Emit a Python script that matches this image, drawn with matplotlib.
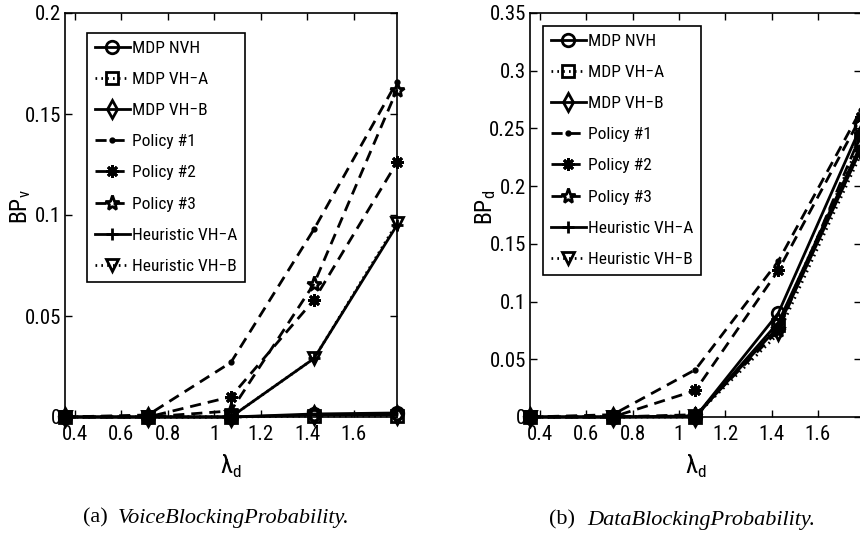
import matplotlib
matplotlib.use("Agg")
import matplotlib.pyplot as plt
from matplotlib import font_manager

# ---------------- data ----------------
lam = [0.357, 0.714, 1.071, 1.429, 1.786]
series_names = ["MDP NVH", "MDP VH\u2212A", "MDP VH\u2212B", "Policy #1", "Policy #2",
                "Policy #3", "Heuristic VH\u2212A", "Heuristic VH\u2212B"]

mdp_nvh_v = [0, 0, 0, 0.0015, 0.002]
mdp_vha_v = [0, 0, 0, 0.0005, 0.0005]
mdp_vhb_v = [0, 0, 0, 0.001, 0.001]
pol1_v = [0, 0.001, 0.027, 0.093, 0.166]
pol2_v = [0, 0, 0.010, 0.058, 0.126]
pol3_v = [0, 0, 0.003, 0.066, 0.162]
heur_a_v = [0, 0, 0, 0.029, 0.095]
heur_b_v = [0, 0, 0, 0.029, 0.096]

mdp_nvh_d = [0, 0, 0, 0.090, 0.252]
mdp_vha_d = [0, 0, 0, 0.080, 0.240]
mdp_vhb_d = [0, 0, 0, 0.082, 0.236]
pol1_d = [0, 0.002, 0.041, 0.135, 0.266]
pol2_d = [0, 0, 0.023, 0.127, 0.260]
pol3_d = [0, 0, 0.002, 0.075, 0.245]
heur_a_d = [0, 0, 0.001, 0.078, 0.232]
heur_b_d = [0, 0, 0.001, 0.072, 0.228]

xticks = [0.4, 0.6, 0.8, 1.0, 1.2, 1.4, 1.6]
xticklabels = ["0.4", "0.6", "0.8", "1", "1.2", "1.4", "1.6"]
yticks_v = [0, 0.05, 0.1, 0.15, 0.2]
yticklabels_v = ["0", "0.05", "0.1", "0.15", "0.2"]
yticks_d = [0, 0.05, 0.1, 0.15, 0.2, 0.25, 0.3, 0.35]
yticklabels_d = ["0", "0.05", "0.1", "0.15", "0.2", "0.25", "0.3", "0.35"]

# ---------------- font selection (condensed sans if available) ----------------
names = {f.name for f in font_manager.fontManager.ttflist}
narrow_candidates = ["Liberation Sans Narrow", "Arial Narrow", "Roboto Condensed",
                     "Open Sans Condensed", "Noto Sans Condensed", "DejaVu Sans Condensed"]
narrow = next((n for n in narrow_candidates if n in names), None)
stretch_fam = None
stretch_val = "condensed"
if narrow is None:
    for want in ("condensed", "semi-condensed"):
        for f in font_manager.fontManager.ttflist:
            if f.stretch == want and f.style == "normal" and f.weight in (400, "normal", "regular"):
                stretch_fam = f.name
                stretch_val = want
                break
        if stretch_fam:
            break

if narrow:
    SANS = [narrow, "DejaVu Sans"]
    FS_T, FS_L = 15, 12.5
    MFONT = narrow
elif stretch_fam:
    SANS = [stretch_fam, "DejaVu Sans"]
    plt.rcParams["font.stretch"] = stretch_val
    FS_T, FS_L = 14, 11.5
    MFONT = stretch_fam
else:
    SANS = ["Liberation Sans", "DejaVu Sans"]
    FS_T, FS_L = 12, 10
    MFONT = "Liberation Sans"

plt.rcParams["font.family"] = SANS
plt.rcParams["mathtext.fontset"] = "custom"
plt.rcParams["mathtext.rm"] = MFONT
plt.rcParams["mathtext.it"] = MFONT + ":italic"
plt.rcParams["mathtext.bf"] = MFONT + ":bold"

styles = [
    dict(ls="-", marker="o"),
    dict(ls=":", marker="s"),
    dict(ls="-", marker="d"),
    dict(ls="--", marker="."),
    dict(ls="--", marker=(8, 2, 0)),
    dict(ls="--", marker="*"),
    dict(ls="-", marker="+"),
    dict(ls=":", marker="v"),
]

fig = plt.figure(figsize=(8.6, 5.38), dpi=100)
axL = fig.add_axes([65 / 860, 1 - 417 / 538, (397 - 65) / 860, (417 - 13) / 538])
axR = fig.add_axes([530 / 860, 1 - 417 / 538, (861 - 530) / 860, (417 - 13) / 538])


def draw(ax, data, yticks, yticklabels, ylim, ylabel, leg_anchor, axw):
    handles = []
    for name, ys, st in zip(series_names, data, styles):
        ms = 11 if st["marker"] == "*" else 9
        if st["marker"] == ".":
            ms = 5
        kw = {}
        if st["ls"] == "--":
            kw["dashes"] = (4, 2.5)
        elif st["ls"] == ":":
            kw["dashes"] = (0.6, 1.5)
        h, = ax.plot(lam, ys, color="black", lw=2, ls=st["ls"], marker=st["marker"],
                     markersize=ms, markerfacecolor="none", markeredgecolor="black",
                     markeredgewidth=2, clip_on=False, label=name, **kw)
        if st["marker"] == ".":
            h.set_markerfacecolor("black")
        handles.append(h)
    ax.set_xlim(lam[0], lam[-1])
    ax.set_ylim(*ylim)
    ax.set_xticks(xticks)
    ax.set_xticklabels(xticklabels, fontsize=FS_T)
    ax.set_yticks(yticks)
    ax.set_yticklabels(yticklabels, fontsize=FS_T)
    ax.tick_params(direction="in", top=True, right=True, length=5, width=1)
    ax.tick_params(axis="x", pad=6)
    ax.tick_params(axis="y", pad=3)
    for s in ax.spines.values():
        s.set_linewidth(1.2)
    ax.set_xlabel(r"$\mathrm{\lambda}_\mathrm{d}$", fontsize=FS_T + 3)
    ax.xaxis.set_label_coords(0.5, -(466 - 417) / 404)
    ax.xaxis.label.set_va("center")
    ax.set_ylabel(ylabel, fontsize=FS_T + 2)
    ax.yaxis.label.set_va("center")
    ax.yaxis.set_label_coords(-44 / axw, 0.52)
    leg = ax.legend(handles=handles, loc="upper left", bbox_to_anchor=leg_anchor,
                    borderaxespad=0, fontsize=FS_L, frameon=True, fancybox=False,
                    edgecolor="black", framealpha=1, handlelength=2.0, handletextpad=0.12,
                    labelspacing=0.92, borderpad=0.45, numpoints=1)
    leg.get_frame().set_linewidth(1.2)


draw(axL, [mdp_nvh_v, mdp_vha_v, mdp_vhb_v, pol1_v, pol2_v, pol3_v, heur_a_v, heur_b_v],
     yticks_v, yticklabels_v, (0, 0.2), r"BP$_\mathrm{v}$", ((87 - 65) / 332, (417 - 33) / 404), 332)
draw(axR, [mdp_nvh_d, mdp_vha_d, mdp_vhb_d, pol1_d, pol2_d, pol3_d, heur_a_d, heur_b_d],
     yticks_d, yticklabels_d, (0, 0.35), r"BP$_\mathrm{d}$", ((543 - 530) / 331, (417 - 26) / 404), 331)

# captions
SERIF = ["Liberation Serif", "DejaVu Serif"]
fig.text(108 / 860, 1 - 518 / 538, "(a)", family=SERIF, fontsize=16, ha="right", va="center",
         stretch="normal")
fig.text(118 / 860, 1 - 518 / 538, "VoiceBlockingProbability.", family=SERIF, style="italic",
         fontsize=16, ha="left", va="center", stretch="normal")
fig.text(575 / 860, 1 - 520 / 538, "(b)", family=SERIF, fontsize=16, ha="right", va="center",
         stretch="normal")
fig.text(587 / 860, 1 - 520 / 538, "DataBlockingProbability.", family=SERIF, style="italic",
         fontsize=16, ha="left", va="center", stretch="normal")

fig.savefig("out.png", dpi=100)
